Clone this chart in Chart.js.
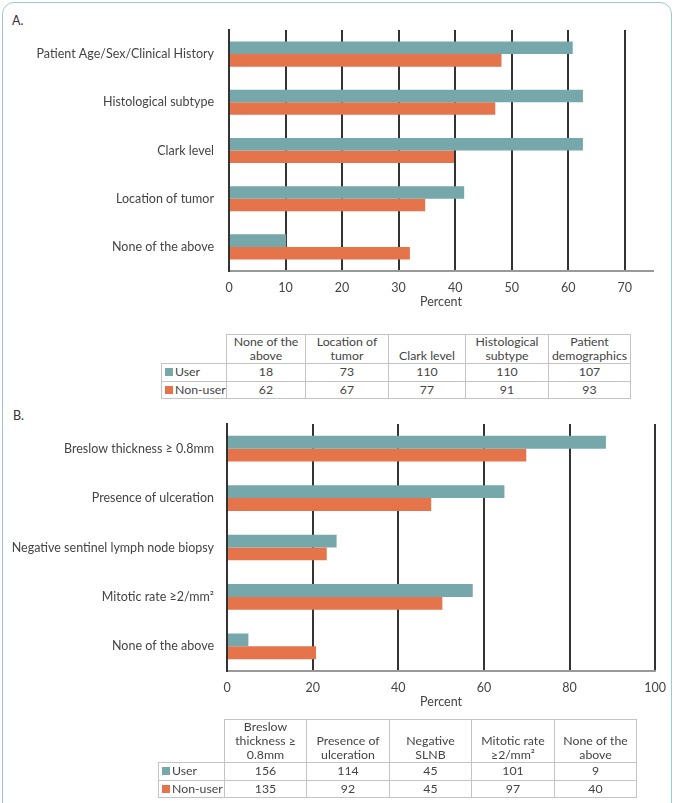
<!DOCTYPE html>
<html>
<head>
<meta charset="utf-8">
<script src="https://cdn.jsdelivr.net/npm/chart.js@4.4.1/dist/chart.umd.min.js"></script>
<style>
  body { margin: 0; width: 675px; height: 803px; overflow: hidden; background: #fff; font-family: Lato, sans-serif; color: #444; }
  .frame { position: absolute; left: 2px; top: 2px; width: 668px; height: 840px; border: 1.5px solid #9dcacc; border-radius: 12px; }
  .panel-label { position: absolute; font-size: 12.5px; color: #333; }
  .box { position: absolute; left: 0; width: 675px; }
  table { position: absolute; border-collapse: collapse; font-size: 12.3px; table-layout: fixed; color: #444; }
  td { border: 1px solid #c4c4c4; text-align: center; padding: 0; line-height: 14px; white-space: nowrap; }
  tr.head td { vertical-align: bottom; }
  td.empty { border: none; }
  td.row { text-align: left; padding-left: 3px; }
  .sw { display: inline-block; width: 8px; height: 8px; margin-right: 2px; }
</style>
</head>
<body>
<div class="frame"></div>
<div class="panel-label" style="left:12px; top:13px;">A.</div>
<div class="box" style="top:0; height:320px;"><canvas id="chartA"></canvas></div>
<table id="tableA" style="left:161px; top:334px;"></table>

<div class="panel-label" style="left:13px; top:408px;">B.</div>
<div class="box" style="top:390px; height:330px;"><canvas id="chartB"></canvas></div>
<table id="tableB" style="left:158px; top:719px;"></table>

<script>
const teal = '#76a7aa'
const orange = '#e5744a'

// panel A
const categoriesA = ['Patient Age/Sex/Clinical History', 'Histological subtype', 'Clark level', 'Location of tumor', 'None of the above']
const userA = [60.8, 62.6, 62.6, 41.6, 10.1]
const nonUserA = [48.2, 47.1, 39.8, 34.7, 32.0]
const tableHeadA = ['None of the<br>above', 'Location of<br>tumor', 'Clark level', 'Histological<br>subtype', 'Patient<br>demographics']
const tableUserA = [18, 73, 110, 110, 107]
const tableNonUserA = [62, 67, 77, 91, 93]

// panel B
const categoriesB = ['Breslow thickness \u2265 0.8mm', 'Presence of ulceration', 'Negative sentinel lymph node biopsy', 'Mitotic rate \u22652/mm\u00b2', 'None of the above']
const userB = [88.5, 64.8, 25.6, 57.4, 5.0]
const nonUserB = [69.9, 47.7, 23.3, 50.3, 20.8]
const tableHeadB = ['Breslow<br>thickness \u2265<br>0.8mm', 'Presence of<br>ulceration', 'Negative<br>SLNB', 'Mitotic rate<br>\u22652/mm\u00b2', 'None of the<br>above']
const tableUserB = [156, 114, 45, 101, 9]
const tableNonUserB = [135, 92, 45, 97, 40]

const font = { family: 'Lato', size: 12.5 }

const makeChart = (id, labels, user, nonUser, max, step, opts) => {
  new Chart(document.getElementById(id), {
    type: 'bar',
    data: {
      labels: labels,
      datasets: [
        { label: 'User', data: user, backgroundColor: teal },
        { label: 'Non-user', data: nonUser, backgroundColor: orange }
      ]
    },
    options: {
      indexAxis: 'y',
      responsive: true,
      maintainAspectRatio: false,
      animation: false,
      categoryPercentage: 0.52,
      barPercentage: 1.0,
      layout: { padding: { top: opts.top, right: opts.right, left: 0, bottom: 0 } },
      plugins: { legend: { display: false }, tooltip: { enabled: false } },
      scales: {
        x: {
          min: 0,
          max: max,
          afterFit: s => { s.height = 49 },
          ticks: { stepSize: step, includeBounds: false, color: '#444', font: font, padding: 9 },
          grid: { color: '#333', lineWidth: 2, drawTicks: false },
          border: { display: true, color: '#999', width: 2 },
          title: { display: true, text: 'Percent', color: '#444', font: font, padding: { top: 0, bottom: 11 } }
        },
        y: {
          afterFit: s => { s.width = opts.left },
          grid: { display: false, drawTicks: false },
          border: { display: true, color: '#333', width: 2 },
          ticks: { color: '#444', font: font, padding: opts.pad }
        }
      }
    }
  })
}

const makeTable = (id, head, user, nonUser, widths, headHeight) => {
  const t = document.getElementById(id)
  let html = '<colgroup>' + widths.map(w => '<col style="width:' + w + 'px">').join('') + '</colgroup>'
  html += '<tr class="head" style="height:' + headHeight + 'px"><td class="empty"></td>' + head.map(h => '<td>' + h + '</td>').join('') + '</tr>'
  html += '<tr style="height:17.6px"><td class="row"><span class="sw" style="background:' + teal + '"></span>User</td>' + user.map(v => '<td>' + v + '</td>').join('') + '</tr>'
  html += '<tr style="height:17.6px"><td class="row"><span class="sw" style="background:' + orange + '"></span>Non-user</td>' + nonUser.map(v => '<td>' + v + '</td>').join('') + '</tr>'
  t.innerHTML = html
}

makeChart('chartA', categoriesA, userA, nonUserA, 75, 10, { top: 30, right: 22, left: 229, pad: 15 })
makeChart('chartB', categoriesB, userB, nonUserB, 100, 20, { top: 34, right: 19, left: 227, pad: 13 })

makeTable('tableA', tableHeadA, tableUserA, tableNonUserA, [65, 79, 83, 77, 83, 82], 27.7)
makeTable('tableB', tableHeadB, tableUserB, tableNonUserB, [66, 82, 83, 82, 83, 82], 42.4)
</script>
</body>
</html>
